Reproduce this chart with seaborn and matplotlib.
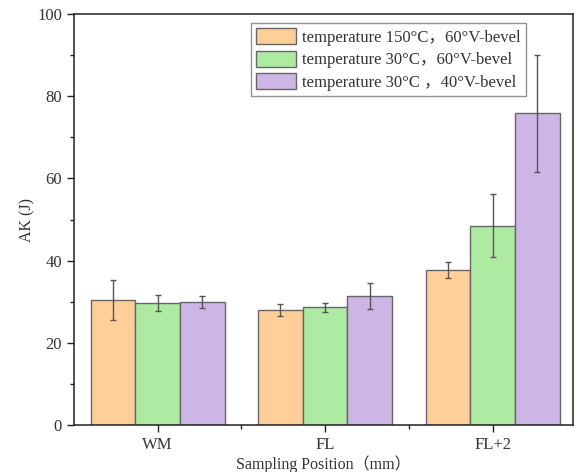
import matplotlib
matplotlib.use("Agg")
import matplotlib.pyplot as plt
import seaborn as sns
import pandas as pd
import numpy as np
from matplotlib.ticker import MultipleLocator

positions = ["WM", "FL", "FL+2"]
series = ["temperature 150°C，60°V-bevel",
          "temperature 30°C，60°V-bevel",
          "temperature 30°C ，40°V-bevel"]
values_150_60 = [30.4, 27.9, 37.7]
values_30_60 = [29.7, 28.6, 48.5]
values_30_40 = [30.0, 31.4, 75.8]
err_150_60 = [4.8, 1.5, 2.0]
err_30_60 = [2.0, 1.0, 7.7]
err_30_40 = [1.5, 3.2, 14.2]

colors = ["#FFCF99", "#ADEBA2", "#CDB6E6"]

sns.set_theme(style="ticks")
plt.rcParams['font.family'] = ['Liberation Serif', 'Noto Sans CJK SC', 'DejaVu Sans']

rows = []
for s, vals in zip(series, [values_150_60, values_30_60, values_30_40]):
    for p, v in zip(positions, vals):
        rows.append({"pos": p, "series": s, "AK": v})
df = pd.DataFrame(rows)

fig = plt.figure(figsize=(5.77, 4.72), dpi=100)
ax = fig.add_axes([0.128, 0.0996, 0.865, 0.8707])

sns.barplot(data=df, x="pos", y="AK", hue="series", order=positions,
            hue_order=series, palette=colors, errorbar=None, width=0.8,
            edgecolor="#666666", linewidth=1.0, saturation=1, ax=ax)

errs = [err_150_60, err_30_60, err_30_40]
for container, e in zip(ax.containers, errs):
    xs = [b.get_x() + b.get_width() / 2 for b in container]
    hs = [b.get_height() for b in container]
    ax.errorbar(xs, hs, yerr=e, fmt="none", ecolor="#555555",
                elinewidth=1.0, capsize=2.2, capthick=1.0, zorder=5)

ax.set_ylim(0, 100)
ax.set_xlim(-0.5, 2.48)
ax.yaxis.set_major_locator(MultipleLocator(20))
ax.yaxis.set_minor_locator(MultipleLocator(10))
ax.set_xticks([0, 1, 2])
ax.set_xticks([0.5, 1.5], minor=True)
ax.tick_params(axis="both", which="major", direction="out", length=5, width=1,
               labelsize=12, colors="#222222", labelcolor="#333333")
ax.tick_params(axis="both", which="minor", direction="out", length=3, width=1,
               colors="#222222")
for sp in ax.spines.values():
    sp.set_visible(True)
    sp.set_color("#222222")
    sp.set_linewidth(1.1)

ax.set_xlabel("Sampling Position（mm）", fontsize=11.5, color="#333333", labelpad=2)
ax.set_ylabel("AK (J)", fontsize=11.5, color="#333333", labelpad=1)

leg = ax.legend(loc="upper right", bbox_to_anchor=(0.906, 0.978), fontsize=12,
                frameon=True, fancybox=False, edgecolor="#777777",
                handlelength=2.4, handleheight=1.1, labelspacing=0.3,
                borderpad=0.3, handletextpad=0.4, borderaxespad=0)
leg.get_frame().set_linewidth(1.0)
for t in leg.get_texts():
    t.set_color("#333333")

fig.savefig("out.png", dpi=100)
